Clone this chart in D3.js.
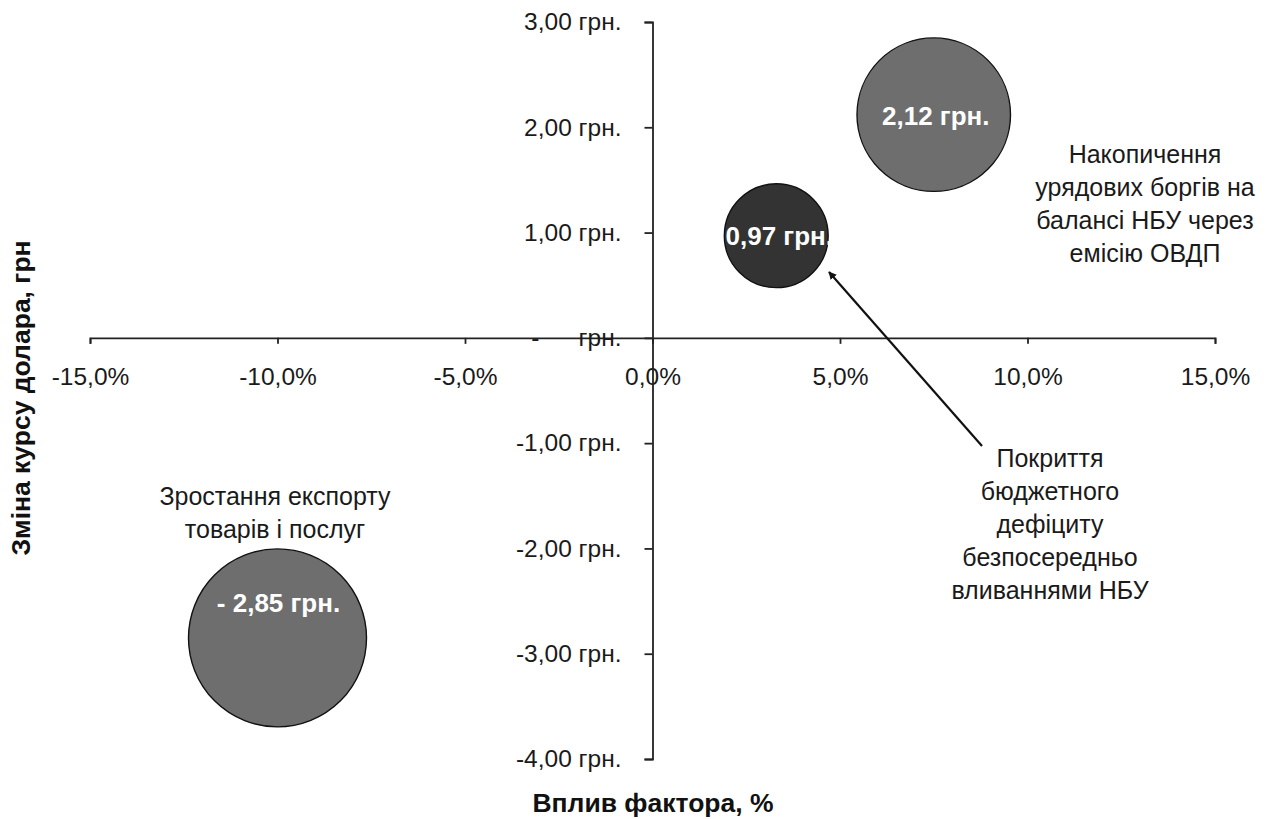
<!DOCTYPE html>
<html><head><meta charset="utf-8">
<script src="https://cdn.jsdelivr.net/npm/d3@7"></script>
<style>
body{margin:0;background:#fff;}
text{font-family:"Liberation Sans",Arial,sans-serif;}
</style></head>
<body><svg id="c" width="1270" height="819"></svg>
<script>
// Data
const factors = ["Накопичення урядових боргів на балансі НБУ через емісію ОВДП",
                 "Покриття бюджетного дефіциту безпосередньо вливаннями НБУ",
                 "Зростання експорту товарів і послуг"];
const impactPct = [7.5, 3.3, -10.0];
const rateChange = [2.12, 0.97, -2.85];
const bubbleLabels = ["2,12 грн.", "0,97 грн.", "- 2,85 грн."];
const xTicks = [-15, -10, -5, 0, 5, 10, 15];
const xTickLabels = ["-15,0%", "-10,0%", "-5,0%", "0,0%", "5,0%", "10,0%", "15,0%"];
const yTicks = [3, 2, 1, 0, -1, -2, -3, -4];
const yTickLabels = ["3,00 грн.", "2,00 грн.", "1,00 грн.", "грн.", "-1,00 грн.", "-2,00 грн.", "-3,00 грн.", "-4,00 грн."];
const annotLines = [
  ["Накопичення", "урядових боргів на", "балансі НБУ через", "емісію ОВДП"],
  ["Покриття", "бюджетного", "дефіциту", "безпосередньо", "вливаннями НБУ"],
  ["Зростання експорту", "товарів і послуг"]
];
const fills = ["#6e6e6e", "#333333", "#6e6e6e"];

const svg = d3.select("#c");
const x = d3.scaleLinear().domain([-15, 15]).range([90, 1215]);
const y = d3.scaleLinear().domain([-4, 3]).range([759, 22]);
const r = d3.scaleSqrt().domain([0, 2.85]).range([0, 89]);

const axisColor = "#222";
// X axis at y=0
const gx = svg.append("g").attr("transform", `translate(0,${y(0)})`)
  .call(d3.axisBottom(x).tickValues(xTicks).tickSize(6).tickSizeOuter(6).tickPadding(24)
    .tickFormat((d,i) => xTickLabels[xTicks.indexOf(d)]));
// Y axis at x=0
const gy = svg.append("g").attr("transform", `translate(${x(0)},0)`)
  .call(d3.axisLeft(y).tickValues(yTicks).tickSize(8).tickSizeOuter(8).tickPadding(23)
    .tickFormat(d => yTickLabels[yTicks.indexOf(d)]));
[gx, gy].forEach(g => {
  g.selectAll("path,line").attr("stroke", axisColor).attr("stroke-width", 1.8);
  g.selectAll("text").attr("font-size", 24.5).attr("fill", "#1a1a1a")
   .attr("font-family", '"Liberation Sans",Arial,sans-serif');
});
// dash of zero label (accounting format)
gy.selectAll(".tick").filter(d => d === 0).append("text")
  .attr("x", -113).attr("dy", "0.32em").attr("text-anchor", "end")
  .attr("font-size", 24.5).attr("fill", "#1a1a1a").text("-");

// Bubbles
const data = factors.map((f, i) => ({f, xv: impactPct[i], yv: rateChange[i], lab: bubbleLabels[i], fill: fills[i]}));
svg.append("g").selectAll("circle").data(data).join("circle")
  .attr("cx", d => x(d.xv)).attr("cy", d => y(d.yv)).attr("r", d => r(Math.abs(d.yv)))
  .attr("fill", d => d.fill).attr("stroke", "#111").attr("stroke-width", 1.4);

// Bubble value labels
const labOffsets = [[2, 0.4], [3, 0.35], [1, -1.0]];
svg.append("g").selectAll("text").data(data).join("text")
  .attr("x", (d,i) => x(d.xv) + labOffsets[i][0])
  .attr("y", (d,i) => y(d.yv))
  .attr("dy", (d,i) => (labOffsets[i][1]) + "em")
  .attr("text-anchor", "middle").attr("font-size", 26).attr("font-weight", "bold")
  .attr("fill", "#fff").text(d => d.lab);

// Annotations
const annotPos = [[1145, 163], [1050, 467], [275, 505]];
annotLines.forEach((lines, i) => {
  const t = svg.append("text").attr("text-anchor", "middle").attr("font-size", 25).attr("fill", "#1a1a1a")
    .attr("x", annotPos[i][0]).attr("y", annotPos[i][1]);
  lines.forEach((l, j) => t.append("tspan").attr("x", annotPos[i][0]).attr("dy", j ? 33 : 0).text(l));
});

// Arrow
svg.append("defs").append("marker").attr("id", "ah").attr("viewBox", "0 0 10 10")
  .attr("refX", 9).attr("refY", 5).attr("markerWidth", 8).attr("markerHeight", 8)
  .attr("markerUnits", "userSpaceOnUse").attr("orient", "auto")
  .append("path").attr("d", "M0,0 L10,5 L0,10 z").attr("fill", "#111");
svg.append("line").attr("x1", 982).attr("y1", 446).attr("x2", 829).attr("y2", 272)
  .attr("stroke", "#111").attr("stroke-width", 2.2).attr("marker-end", "url(#ah)");

// Axis titles
svg.append("text").attr("x", 653).attr("y", 812).attr("text-anchor", "middle")
  .attr("font-size", 26.5).attr("font-weight", "bold").attr("fill", "#111").text("Вплив фактора, %");
svg.append("text").attr("transform", "translate(30,398) rotate(-90)").attr("text-anchor", "middle")
  .attr("font-size", 26.5).attr("font-weight", "bold").attr("fill", "#111").text("Зміна курсу долара, грн");
</script></body></html>
